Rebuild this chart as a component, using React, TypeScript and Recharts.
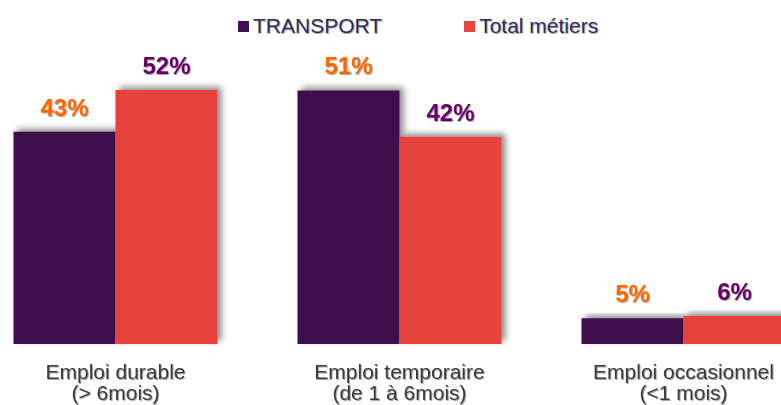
import React from 'react';
import { BarChart, Bar, XAxis, YAxis, Legend, LabelList } from 'recharts';

const categoryLine1 = ['Emploi durable', 'Emploi temporaire', 'Emploi occasionnel'];
const categoryLine2 = ['(> 6mois)', '(de 1 à 6mois)', '(<1 mois)'];
const transportValues = [43, 51.4, 5.2];
const totalValues = [51.5, 42, 5.7];
const seriesNames = ['TRANSPORT', 'Total métiers'];

const PURPLE = '#41104e';
const RED = '#e8433e';
const FONT = '"Liberation Sans", Arial, sans-serif';

const data = categoryLine1.map((c, i) => ({
  cat: c,
  sub: categoryLine2[i],
  transport: transportValues[i],
  total: totalValues[i],
}));

const Tick = (props: any) => {
  const { x, y, index } = props;
  return (
    <g transform={`translate(${x},${y})`} filter="url(#txtShadow)">
      <text textAnchor="middle" fontFamily={FONT} fontSize={21} fill="#3a3a3a">
        <tspan x={0} y={35}>{categoryLine1[index]}</tspan>
        <tspan x={0} y={56}>{categoryLine2[index]}</tspan>
      </text>
    </g>
  );
};

const LegendContent = () => {
  const colors = [PURPLE, RED];
  return (
    <div style={{ display: 'flex', alignItems: 'center', paddingLeft: 268, fontFamily: FONT, fontSize: 21, color: '#2d2d5a', textShadow: '1px 1px 1px rgba(0,0,0,0.35)' }}>
      {seriesNames.map((n, i) => (
        <div key={n} style={{ display: 'flex', alignItems: 'center', marginRight: i === 0 ? 82 : 0 }}>
          <span style={{ display: 'inline-block', width: 11, height: 11, background: colors[i], marginRight: 4 }} />
          <span style={{ lineHeight: '24px' }}>{n}</span>
        </div>
      ))}
    </div>
  );
};

const fmt = (v: any) => `${Math.round(Number(v))}%`;

export default function App() {
  return (
    <div style={{ position: 'absolute', left: 0, top: 0, width: 781, height: 405, overflow: 'hidden', background: '#fff' }}>
      <svg width={0} height={0} style={{ position: 'absolute' }}>
        <defs>
          <filter id="barShadow" x="-20%" y="-20%" width="140%" height="140%">
            <feDropShadow dx={4} dy={-3} stdDeviation={3} floodColor="#000" floodOpacity={0.45} />
          </filter>
          <filter id="txtShadow" x="-10%" y="-10%" width="120%" height="130%">
            <feDropShadow dx={1} dy={1} stdDeviation={0.6} floodColor="#000" floodOpacity={0.35} />
          </filter>
        </defs>
      </svg>
      <div style={{ position: 'absolute', left: -30, top: 0 }}>
        <BarChart
          width={860}
          height={405}
          data={data}
          margin={{ top: 48, right: 4.5, bottom: 0, left: 3.5 }}
          barGap={0}
          barCategoryGap={40}
        >
          <XAxis dataKey="cat" axisLine={false} tickLine={false} tickSize={0} tickMargin={0} height={61} interval={0} tick={<Tick />} />
          <YAxis hide domain={[0, 60]} />
          <Legend verticalAlign="middle" align="center" layout="horizontal" wrapperStyle={{ top: 14, left: 0, width: 860 }} content={<LegendContent />} />
          <Bar dataKey="transport" name={seriesNames[0]} fill={PURPLE} barSize={102} isAnimationActive={false} style={{ filter: 'url(#barShadow)' }}>
            <LabelList dataKey="transport" position="top" offset={16} formatter={fmt} style={{ fill: '#ff6600', fontFamily: FONT, fontSize: 24, fontWeight: 700, filter: 'url(#txtShadow)' }} />
          </Bar>
          <Bar dataKey="total" name={seriesNames[1]} fill={RED} barSize={102} isAnimationActive={false} style={{ filter: 'url(#barShadow)' }}>
            <LabelList dataKey="total" position="top" offset={16} formatter={fmt} style={{ fill: '#660066', fontFamily: FONT, fontSize: 24, fontWeight: 700, filter: 'url(#txtShadow)' }} />
          </Bar>
        </BarChart>
      </div>
    </div>
  );
}
